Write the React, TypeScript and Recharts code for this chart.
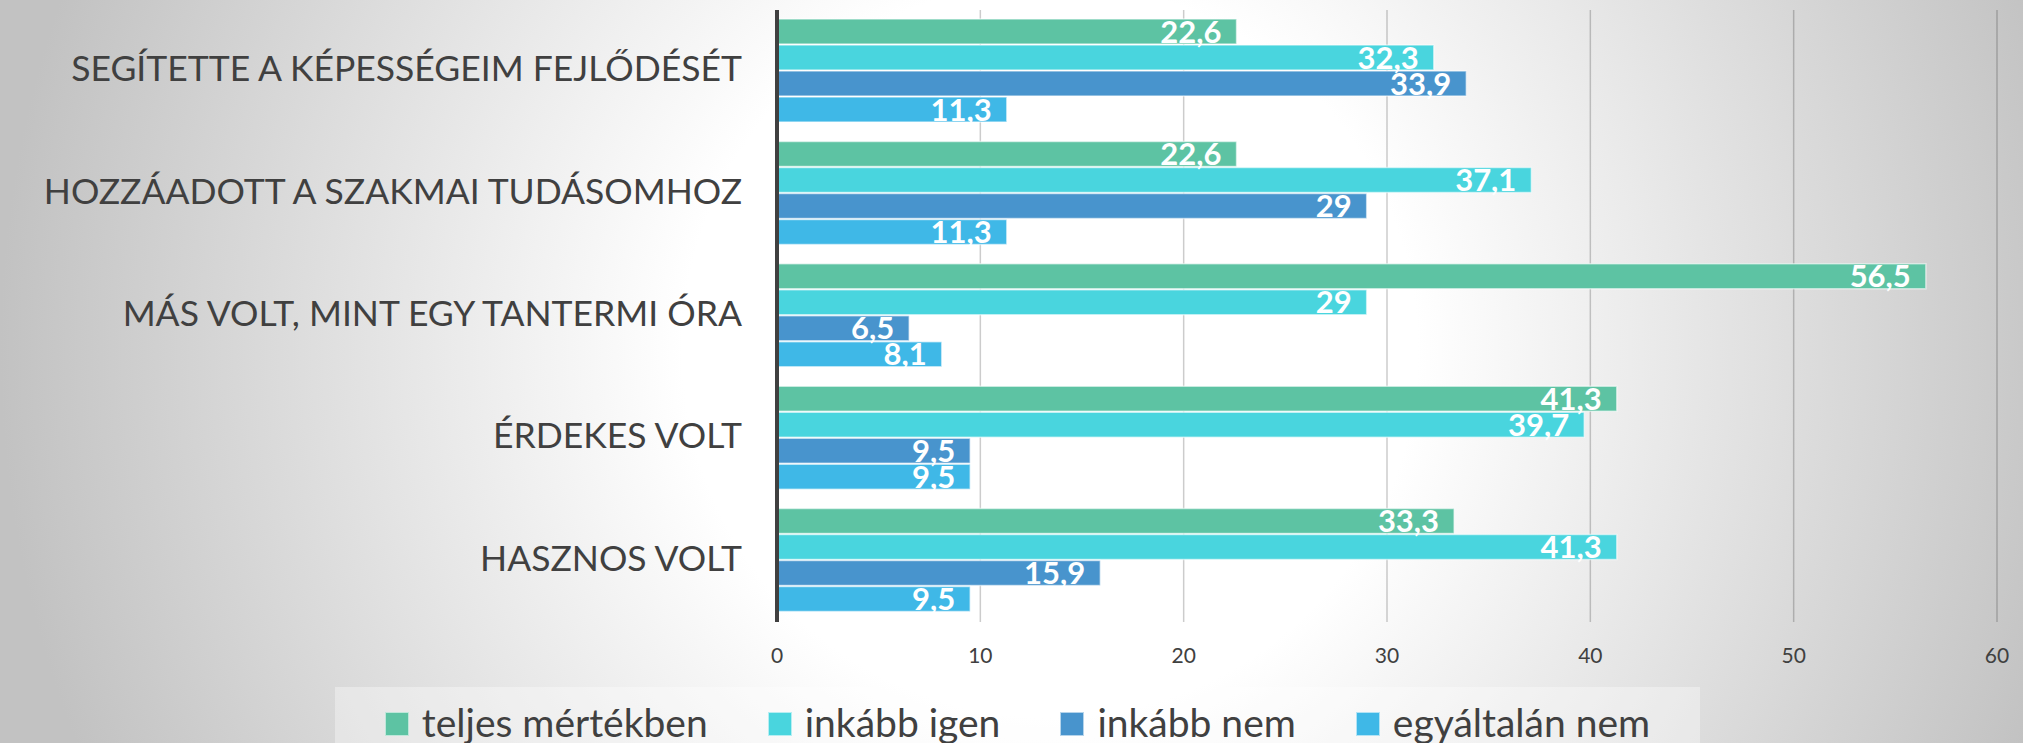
import React from 'react';
import { BarChart, Bar, XAxis, YAxis, CartesianGrid, Legend, LabelList } from 'recharts';

const categories = [
  'SEGÍTETTE A KÉPESSÉGEIM FEJLŐDÉSÉT',
  'HOZZÁADOTT A SZAKMAI TUDÁSOMHOZ',
  'MÁS VOLT, MINT EGY TANTERMI ÓRA',
  'ÉRDEKES VOLT',
  'HASZNOS VOLT',
];
const teljes = [22.6, 22.6, 56.5, 41.3, 33.3];
const inkabbIgen = [32.3, 37.1, 29, 39.7, 41.3];
const inkabbNem = [33.9, 29, 6.5, 9.5, 15.9];
const egyaltalan = [11.3, 11.3, 8.1, 9.5, 9.5];
const xTicks = [0, 10, 20, 30, 40, 50, 60];

const SERIES = [
  { key: 'teljes', name: 'teljes mértékben', color: '#5DC3A3' },
  { key: 'igen', name: 'inkább igen', color: '#49D5DE' },
  { key: 'nem', name: 'inkább nem', color: '#4894CD' },
  { key: 'egyaltalan', name: 'egyáltalán nem', color: '#3FB8E7' },
];

const data = categories.map((name, i) => ({
  name,
  teljes: teljes[i],
  igen: inkabbIgen[i],
  nem: inkabbNem[i],
  egyaltalan: egyaltalan[i],
}));

const FONT = 'Lato, "Open Sans", sans-serif';
const fmt = (v: any) => String(v).replace('.', ',');

function CategoryTick({ x, y, payload }: any) {
  return (
    <text x={x} y={y} dy="0.28em" textAnchor="end" fill="#404040" fontSize={35.5} fontFamily={FONT}>
      {payload.value}
    </text>
  );
}

// keep legend in series order (recharts sorts the payload by name)
function LegendBox({ payload }: any) {
  const items = SERIES.map((s) => (payload || []).find((p: any) => p.value === s.name) || { value: s.name, color: s.color });
  return (
    <div style={{
      height: 56, boxSizing: 'border-box', paddingTop: 13,
      background: 'rgba(255,255,255,0.35)',
      display: 'flex', justifyContent: 'center', alignItems: 'center', gap: 60,
    }}>
      {items.map((p: any) => (
        <div key={p.value} style={{ display: 'flex', alignItems: 'center', height: 38 }}>
          <span style={{
            width: 24, height: 24, boxSizing: 'border-box', background: p.color,
            border: '1.5px solid rgba(255,255,255,0.6)', marginRight: 13, marginTop: 4,
          }} />
          <span style={{ fontFamily: FONT, fontSize: 39, lineHeight: '38px', color: '#404040' }}>{p.value}</span>
        </div>
      ))}
    </div>
  );
}

export default function App() {
  return (
    <div style={{
      position: 'absolute', left: 0, top: 0, width: 2023, height: 743, overflow: 'hidden',
      background: 'radial-gradient(circle 1050px at 1050px 350px, #ffffff 0%, #ffffff 35%, #c2c2c2 100%)',
    }}>
      <BarChart
        width={2023}
        height={743}
        data={data}
        layout="vertical"
        margin={{ top: 10, right: 26, bottom: 0, left: 0 }}
        barCategoryGap={9}
        barGap={1}
      >
        <CartesianGrid horizontal={false} stroke="#000" strokeOpacity={0.2} strokeWidth={1.5} />
        <XAxis
          type="number"
          domain={[0, 60]}
          ticks={xTicks}
          interval={0}
          height={121}
          axisLine={false}
          tickLine={false}
          tickSize={0}
          tickMargin={26}
          tick={{ fill: '#404040', fontSize: 21, fontFamily: FONT }}
        />
        <YAxis
          type="category"
          dataKey="name"
          width={777}
          axisLine={{ stroke: '#404040', strokeWidth: 4 }}
          tickLine={false}
          tickSize={0}
          tickMargin={35}
          interval={0}
          tick={<CategoryTick />}
        />
        <Legend
          layout="horizontal"
          verticalAlign="middle"
          align="center"
          wrapperStyle={{ top: 687, left: 335, width: 1365, height: 56 }}
          content={<LegendBox />}
        />
        {SERIES.map((s) => (
          <Bar key={s.key} dataKey={s.key} name={s.name} fill={s.color}
            stroke="rgba(255,255,255,0.55)" strokeWidth={1.5} isAnimationActive={false}>
            <LabelList dataKey={s.key} position="insideRight" offset={15} formatter={fmt}
              fill="#ffffff" fontSize={31} fontWeight="bold" fontFamily={FONT} />
          </Bar>
        ))}
      </BarChart>
    </div>
  );
}
